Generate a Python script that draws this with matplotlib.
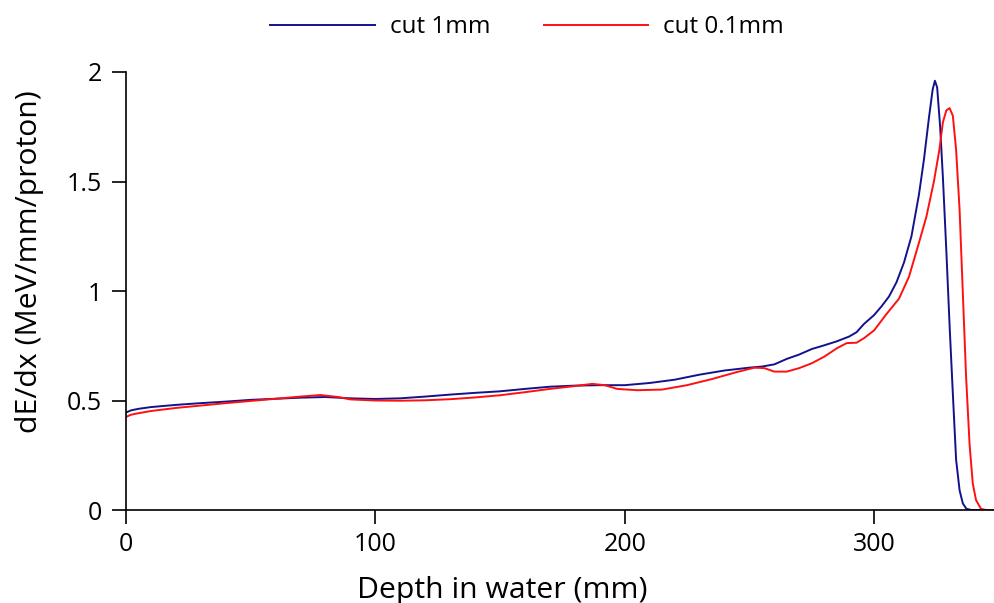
import matplotlib
matplotlib.use('Agg')
import matplotlib.pyplot as plt

# depth-dose profiles, two production cuts
depth_cut_1mm = [0, 2, 5, 10, 20, 30, 40, 50, 60, 70, 80, 90, 100, 110, 120, 130, 140,
                 150, 160, 170, 180, 190, 200, 210, 220, 230, 240, 250, 255, 260, 265,
                 270, 275, 280, 285, 290, 293, 296, 300, 303, 306, 309, 312, 315, 318,
                 320, 322, 323.5, 324.4, 325.3, 326.5, 327.6, 329, 330.3, 331.6, 332.9,
                 334.3, 335.6, 337, 339, 350]
dedx_cut_1mm = [0.445, 0.455, 0.462, 0.470, 0.480, 0.488, 0.495, 0.503, 0.508, 0.513,
                0.516, 0.510, 0.507, 0.510, 0.518, 0.527, 0.535, 0.542, 0.553, 0.563,
                0.568, 0.570, 0.570, 0.580, 0.595, 0.618, 0.637, 0.650, 0.655, 0.665,
                0.690, 0.710, 0.735, 0.752, 0.770, 0.792, 0.812, 0.850, 0.890, 0.930,
                0.975, 1.040, 1.130, 1.250, 1.440, 1.600, 1.790, 1.920, 1.960, 1.930,
                1.750, 1.520, 1.180, 0.840, 0.530, 0.230, 0.090, 0.030, 0.006, 0.0, 0.0]

depth_cut_01mm = [0, 2, 5, 10, 20, 30, 40, 50, 60, 70, 78, 85, 90, 100, 110, 120, 130,
                  140, 150, 160, 170, 180, 187, 192, 197, 205, 215, 225, 235, 245, 252,
                  256, 260, 265, 270, 275, 280, 285, 289, 293, 296, 300, 305, 310, 314,
                  318, 321, 324, 326.2, 327.6, 329, 330.3, 331.6, 332.9, 334.3, 335.6,
                  336.9, 338.3, 339.6, 340.9, 342.9, 345, 350]
dedx_cut_01mm = [0.425, 0.435, 0.442, 0.452, 0.466, 0.477, 0.488, 0.498, 0.508, 0.518,
                 0.525, 0.516, 0.505, 0.500, 0.499, 0.501, 0.506, 0.514, 0.524, 0.538,
                 0.553, 0.566, 0.576, 0.570, 0.553, 0.547, 0.550, 0.570, 0.598, 0.630,
                 0.650, 0.648, 0.632, 0.632, 0.648, 0.670, 0.700, 0.738, 0.762, 0.764,
                 0.785, 0.820, 0.895, 0.965, 1.065, 1.220, 1.340, 1.500, 1.645, 1.770,
                 1.825, 1.835, 1.800, 1.645, 1.370, 0.990, 0.610, 0.300, 0.120, 0.045,
                 0.005, 0.0, 0.0]

x_ticks = [0, 100, 200, 300]
y_ticks = [0, 0.5, 1, 1.5, 2]
y_tick_labels = ['0', '0.5', '1', '1.5', '2']

plt.rcParams['font.family'] = ['Open Sans', 'DejaVu Sans']

fig = plt.figure(figsize=(9.95, 6.03), dpi=100)
ax = fig.add_axes([0.1266, 0.1542, 0.8734, 0.7264])

ax.plot(depth_cut_1mm, dedx_cut_1mm, color='#12128c', lw=1.4, label='cut 1mm')
ax.plot(depth_cut_01mm, dedx_cut_01mm, color='#ff1010', lw=1.4, label='cut 0.1mm')

ax.set_xlim(0, 348.5)
ax.set_ylim(0, 2)
ax.set_xticks(x_ticks)
ax.set_yticks(y_ticks)
ax.set_yticklabels(y_tick_labels)

for side in ('top', 'right'):
    ax.spines[side].set_visible(False)
for side in ('left', 'bottom'):
    ax.spines[side].set_linewidth(1.2)
ax.tick_params(direction='out', length=10, width=1.2, labelsize=18)
ax.tick_params(axis='x', pad=6)
ax.tick_params(axis='y', pad=7)

ax.set_xlabel('Depth in water (mm)', fontsize=21.7)
ax.set_ylabel('dE/dx (MeV/mm/proton)', fontsize=21.7)
ax.xaxis.set_label_coords(0.4327, -0.150)
ax.yaxis.set_label_coords(-0.094, 0.568)

fig.legend(loc='center', bbox_to_anchor=(0.5296, 0.955), ncol=2, frameon=False,
           fontsize=17.5, handlelength=4.3, columnspacing=2.2, handletextpad=0.6)

fig.savefig('out.png', dpi=100)
